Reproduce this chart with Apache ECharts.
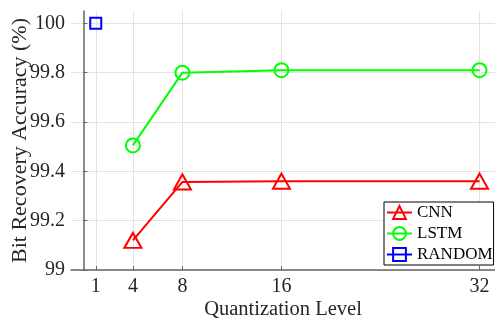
<!DOCTYPE html>
<html>
<head>
<meta charset="utf-8">
<script src="https://cdn.jsdelivr.net/npm/echarts@6/dist/echarts.min.js"></script>
<style>
  html, body { margin: 0; padding: 0; background: #fff; }
  #chart { width: 495px; height: 320px; }
</style>
</head>
<body>
<div id="chart"></div>
<script>
// Quantization levels (x) and accuracies (%)
const xTicks = [1, 4, 8, 16, 32];
const yTicks = [99, 99.2, 99.4, 99.6, 99.8, 100];

const cnnLevels = [4, 8, 16, 32];
const cnnAcc = [99.12, 99.357, 99.36, 99.36];

const lstmLevels = [4, 8, 16, 32];
const lstmAcc = [99.505, 99.80, 99.81, 99.81];

const randomLevels = [1];
const randomAcc = [100];

const zip = (xs, ys) => xs.map((x, i) => [x, ys[i]]);

const font = '"Liberation Serif", "DejaVu Serif", serif';
const textColor = '#262626';
const axisColor = '#666';
const gridColor = '#e3e3e3';

function lineSeries(name, xs, ys, color, symbol, size) {
  return {
    name: name,
    type: 'line',
    data: zip(xs, ys),
    symbol: symbol,
    symbolSize: size,
    showSymbol: true,
    lineStyle: { color: color, width: 2 },
    itemStyle: { color: 'rgba(0,0,0,0)', borderColor: color, borderWidth: 2 },
    emphasis: { disabled: true },
    animation: false,
    z: 3
  };
}

const chart = echarts.init(document.getElementById('chart'), null, { renderer: 'canvas' });
chart.setOption({
  backgroundColor: '#fff',
  animation: false,
  grid: { left: 71, top: 11, right: 0, bottom: 50, containLabel: false, outerBoundsMode: 'none' },
  xAxis: {
    type: 'value',
    min: -1,
    max: 33.25,
    name: 'Quantization Level',
    nameLocation: 'middle',
    nameGap: 29,
    nameMoveOverlap: false,
    nameTextStyle: { fontFamily: font, fontSize: 20.5, color: textColor },
    axisLine: { show: true, lineStyle: { color: axisColor, width: 1.5 } },
    axisTick: { show: true, inside: true, length: 4, customValues: xTicks, lineStyle: { color: axisColor } },
    axisLabel: { customValues: xTicks, margin: 7, fontFamily: font, fontSize: 20, color: textColor },
    splitLine: { show: true, lineStyle: { color: gridColor, width: 1 } }
  },
  yAxis: {
    type: 'value',
    min: 99,
    max: 100.05,
    name: 'Bit Recovery Accuracy (%)',
    nameLocation: 'middle',
    nameGap: 40,
    nameMoveOverlap: false,
    nameTextStyle: { fontFamily: font, fontSize: 22, color: textColor },
    axisLine: { show: true, lineStyle: { color: axisColor, width: 1.5 } },
    axisTick: { show: true, inside: true, length: 4, customValues: yTicks, lineStyle: { color: axisColor } },
    axisLabel: {
      customValues: yTicks,
      margin: 6,
      fontFamily: font,
      fontSize: 20,
      color: textColor,
      formatter: v => String(Math.round(v * 10) / 10)
    },
    splitLine: { show: true, lineStyle: { color: gridColor, width: 1 } }
  },
  legend: {
    orient: 'vertical',
    left: 384,
    top: 202,
    padding: [2, 1, 2, 2],
    itemGap: 4,
    itemWidth: 25,
    itemHeight: 16,
    backgroundColor: '#fff',
    borderColor: '#000',
    borderWidth: 1,
    borderRadius: 0,
    textStyle: { fontFamily: font, fontSize: 17, color: '#000' },
    data: ['CNN', 'LSTM', 'RANDOM']
  },
  series: [
    lineSeries('CNN', cnnLevels, cnnAcc, '#ff0000', 'triangle', [17, 15]),
    lineSeries('LSTM', lstmLevels, lstmAcc, '#00ff00', 'circle', 14),
    lineSeries('RANDOM', randomLevels, randomAcc, '#0000ff', 'rect', 11)
  ]
});
</script>
</body>
</html>
